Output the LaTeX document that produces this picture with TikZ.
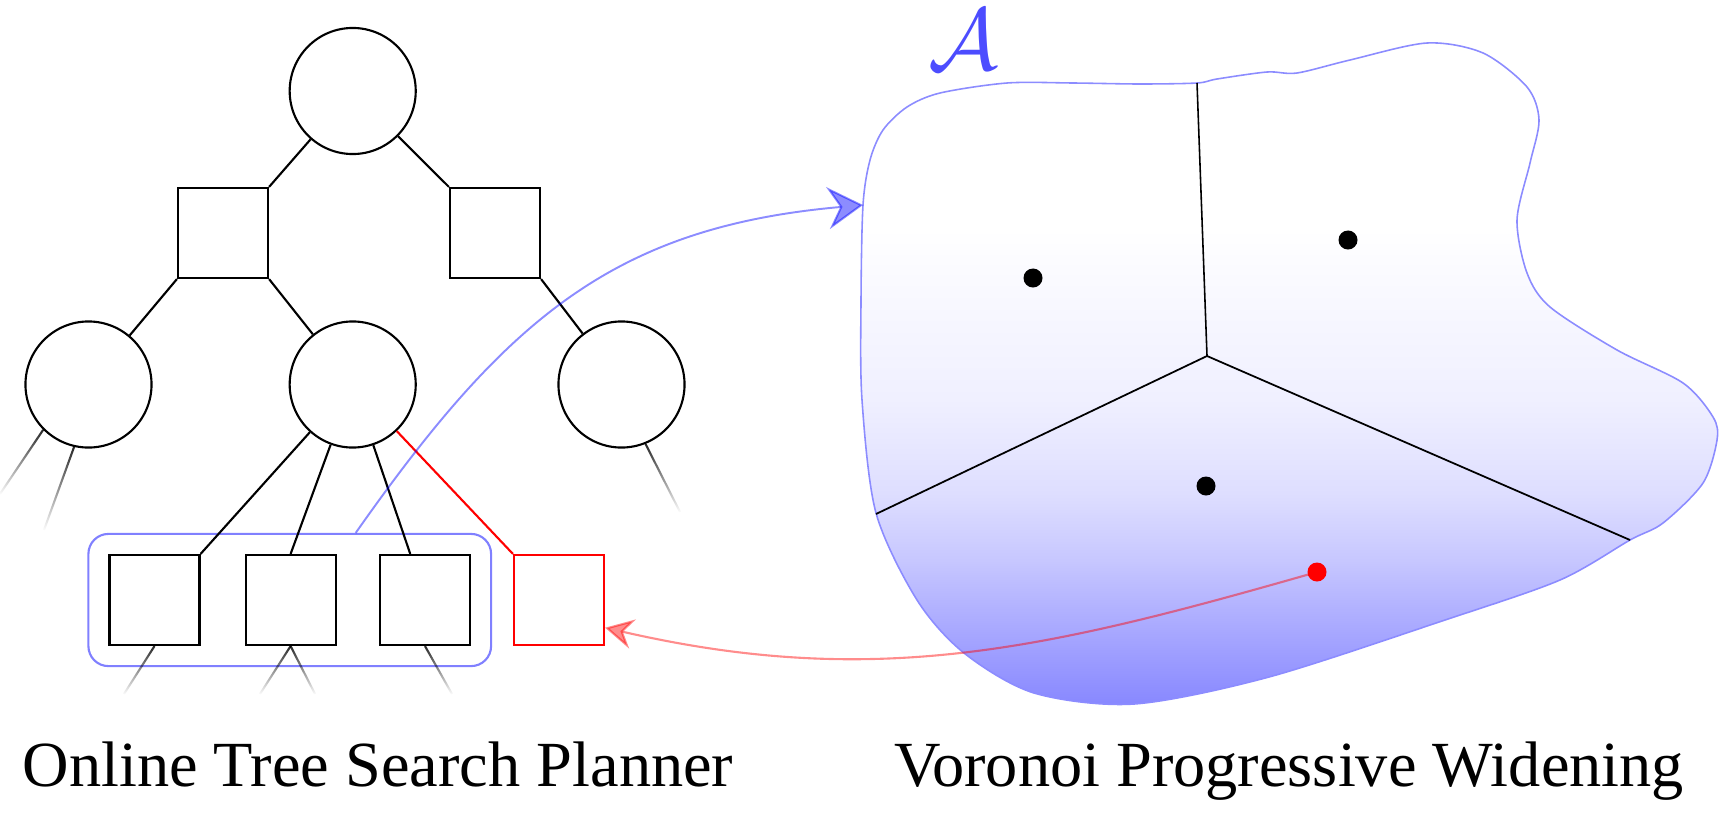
\documentclass[tikz,border=0pt]{standalone}
\usepackage{fontspec}
\setmainfont{Liberation Serif}
\usetikzlibrary{arrows.meta,fit,fadings,calc}

% Fading for the cut-off branches of the tree
\tikzfading[name=stubfade, top color=transparent!15, bottom color=transparent!100]

% Shading of the action space (white at the top, blue at the bottom)
\pgfdeclareverticalshading{blobshade}{100bp}{color(0bp)=(blue!47); color(25bp)=(blue!47); color(29bp)=(blue!38); color(36bp)=(blue!22); color(41bp)=(blue!13); color(48bp)=(blue!6); color(57bp)=(blue!2); color(61bp)=(white); color(100bp)=(white)}

\begin{document}
\begin{tikzpicture}[x=0.01cm, y=-0.01cm,
    statenode/.style={circle, draw, line width=0.6pt, minimum size=1.26cm, inner sep=0pt},
    actionnode/.style={rectangle, draw, line width=0.6pt, minimum size=0.9cm, inner sep=0pt},
    treeedge/.style={line width=0.6pt},
    stub/.style={black, line width=0.6pt, path fading=stubfade},
    site/.style={circle, fill, inner sep=0pt, minimum size=0.19cm},
    title/.style={anchor=base, font=\fontsize{18.3}{22}\selectfont}]

    \useasboundingbox (0,0) rectangle (1719,812);

    % Tree nodes
    \node[statenode] (root) at (352.7,91) {};
    \node[actionnode] (a1) at (223,233) {};
    \node[actionnode] (a2) at (495,233) {};
    \node[statenode] (s1) at (88.5,384.5) {};
    \node[statenode] (s2) at (352.7,384.5) {};
    \node[statenode] (s3) at (621.5,384.5) {};
    \node[actionnode] (b1) at (154.5,600) {};
    \node[actionnode] (b2) at (290.6,600) {};
    \node[actionnode] (b3) at (425,600) {};
    \node[actionnode, draw=red] (b4) at (559,600) {};

    % Group of the existing actions
    \node[fit=(b1)(b2)(b3), draw=blue!50, line width=0.6pt, rounded corners=0.2cm, inner sep=0.2cm] (group) {};

    % Tree edges
    \draw[treeedge] (root) -- (a1.north east);
    \draw[treeedge] (root) -- (a2.north west);
    \draw[treeedge] (a1.south west) -- (s1);
    \draw[treeedge] (a1.south east) -- (s2);
    \draw[treeedge] (a2.south east) -- (s3);
    \draw[treeedge] (s2) -- (b1.north east);
    \draw[treeedge] (s2) -- (b2.north);
    \draw[treeedge] (s2) -- ($(b3.north west)!0.34!(b3.north east)$);
    \draw[treeedge, red] (s2) -- (b4.north west);

    % Branches that fade out
    \coordinate (e1) at (0,494);
    \coordinate (e2) at (44,530);
    \coordinate (e3) at (680,512);
    \coordinate (e4) at (124,694);
    \coordinate (e5) at (260,694);
    \coordinate (e6) at (315,694);
    \coordinate (e7) at (452,694);
    \draw[stub] (s1.225) -- (e1);
    \draw[stub] (s1.257) -- (e2);
    \draw[stub] (s3.292) -- (e3);
    \draw[stub] (b1.south) -- (e4);
    \draw[stub] (b2.south) -- (e5);
    \draw[stub] (b2.south) -- (e6);
    \draw[stub] (b3.south) -- (e7);

    % Action space
    \shadedraw[shading=blobshade, draw=blue!45, line width=0.45pt] plot[smooth cycle, tension=0.5] coordinates {
        (863,205) (870,160) (883,130) (907,107) (940,93) (1007,83) (1073,83)
        (1140,84) (1197,83) (1217,79) (1267,72) (1297,73) (1350,60) (1427,43)
        (1483,53) (1527,87) (1539,120) (1530,163) (1517,220) (1527,273)
        (1550,307) (1617,350) (1683,383) (1713,417) (1717,440) (1703,483)
        (1663,523) (1630,540) (1560,580) (1445,620) (1269,677) (1134,704)
        (1034,693) (964,653) (917,600) (876,513) (862,400) (861,300)};
    \node[text=blue!70, anchor=base, inner sep=0pt, font=\fontsize{27.5}{28}\selectfont] (space) at (963,69) {$\mathcal{A}$};

    % Voronoi cells
    \coordinate (vc) at (1207,356);
    \coordinate (vtop) at (1197,83);
    \coordinate (vleft) at (876,514);
    \coordinate (vright) at (1630,540);
    \draw[line width=0.45pt] (vc) -- (vtop);
    \draw[line width=0.5pt] (vc) -- (vleft);
    \draw[line width=0.5pt] (vc) -- (vright);

    % Sampled actions
    \node[site] (p1) at (1033,278) {};
    \node[site] (p2) at (1348,240) {};
    \node[site] (p3) at (1206,486) {};

    % Arrows
    \coordinate (gtop) at ($(group.north west)!0.663!(group.north east)$);
    \coordinate (blobin) at (863,205);
    \draw[blue, opacity=0.45, line width=0.55pt, -{Stealth[length=10pt, width=12pt, inset=3.5pt]}]
        (gtop) .. controls (506,319) and (614,227) .. (blobin);
    \draw[red, opacity=0.45, line width=0.6pt, -{Stealth[length=8pt, width=8.5pt, inset=2.8pt]}]
        (1317,572) .. controls (1048,649) and (876,690) .. (b4.-31);
    \node[site, red] (pick) at (1317,572) {};

    % Titles
    \node[title] (plannerlabel) at (378,786) {Online Tree Search Planner};
    \node[title] (vpwlabel) at (1289,786) {Voronoi Progressive Widening};

\end{tikzpicture}
\end{document}
